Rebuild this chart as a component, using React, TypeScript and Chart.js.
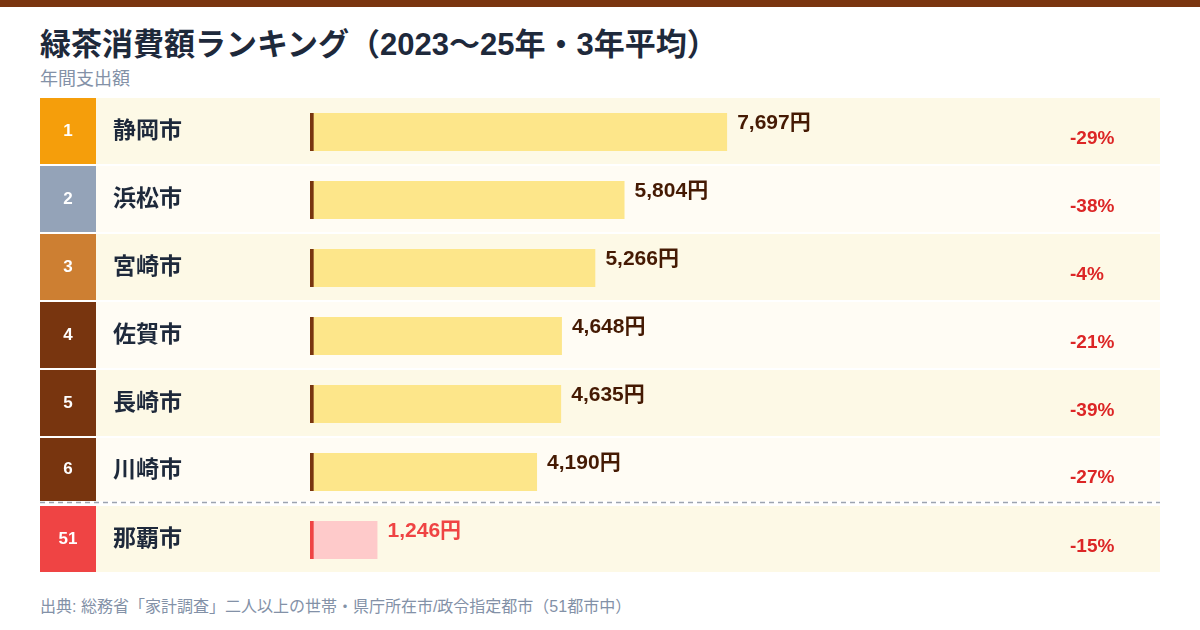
import { useEffect, useRef } from "react"
import { Chart, registerables } from "chart.js"

Chart.register(...registerables)

const cities = ["静岡市", "浜松市", "宮崎市", "佐賀市", "長崎市", "川崎市", "那覇市"]
const ranks = ["1", "2", "3", "4", "5", "6", "51"]
const spending = [7697, 5804, 5266, 4648, 4635, 4190, 1246]
const changes = ["-29%", "-38%", "-4%", "-21%", "-39%", "-27%", "-15%"]
const rankColors = ["#f59e0b", "#94a3b8", "#cd7f32", "#78350f", "#78350f", "#78350f", "#ef4444"]

const FONT = '"Helvetica Neue", Arial, "Liberation Sans", "Noto Sans CJK JP", sans-serif'
const BROWN = "#78350f"
const RED = "#ef4444"

const rowPlugin = {
  id: "rows",
  beforeDatasetsDraw(chart: any) {
    const { ctx, width } = chart
    const y = chart.scales.y
    const band = y.getPixelForValue(1) - y.getPixelForValue(0)
    ctx.save()
    cities.forEach((city, i) => {
      const c = y.getPixelForValue(i)
      const top = c - band / 2
      let h = band - 2
      if (i === 5) h = band - 5
      ctx.fillStyle = i % 2 === 0 ? "#fdf9e6" : "#fffcf4"
      ctx.fillRect(0, top, width, h)
      ctx.fillStyle = rankColors[i]
      ctx.fillRect(0, top, 56, h)
      ctx.fillStyle = "#ffffff"
      ctx.font = `bold 17px ${FONT}`
      ctx.textAlign = "center"
      ctx.textBaseline = "middle"
      ctx.fillText(ranks[i], 28, top + h / 2)
      ctx.fillStyle = "#1e293b"
      ctx.font = `bold 23px ${FONT}`
      ctx.textAlign = "left"
      ctx.fillText(city, 73, top + h / 2 + 1)
      ctx.fillStyle = "#dc2626"
      ctx.font = `bold 19px ${FONT}`
      ctx.fillText(changes[i], 1030, top + h / 2 + 8)
    })
    // separator before the last row
    const sepY = y.getPixelForValue(5) + band / 2 - 3.5
    ctx.strokeStyle = "#9ca3af"
    ctx.lineWidth = 1.5
    ctx.setLineDash([5, 4])
    ctx.beginPath()
    ctx.moveTo(0, sepY)
    ctx.lineTo(width, sepY)
    ctx.stroke()
    ctx.restore()
  },
  afterDatasetsDraw(chart: any) {
    const { ctx } = chart
    const meta = chart.getDatasetMeta(0)
    ctx.save()
    ctx.font = `bold 21px ${FONT}`
    ctx.textAlign = "left"
    ctx.textBaseline = "middle"
    meta.data.forEach((bar: any, i: number) => {
      ctx.fillStyle = i === 6 ? RED : "#451a03"
      ctx.fillText(`${spending[i].toLocaleString("en-US")}円`, bar.x + 10, bar.y - 9)
    })
    ctx.restore()
  },
}

export default function App() {
  const chartRef = useRef<HTMLCanvasElement>(null)
  const chartInstanceRef = useRef<Chart | null>(null)

  useEffect(() => {
    document.body.style.margin = "0"
    if (!chartRef.current) return
    if (chartInstanceRef.current) chartInstanceRef.current.destroy()

    chartInstanceRef.current = new Chart(chartRef.current, {
      type: "bar",
      data: {
        labels: cities,
        datasets: [
          {
            data: spending,
            backgroundColor: spending.map((_, i) => (i === 6 ? "#fecaca" : "#fde68a")),
            borderColor: spending.map((_, i) => (i === 6 ? RED : BROWN)),
            borderWidth: { left: 4, right: 0, top: 0, bottom: 0 },
            borderSkipped: false,
            barThickness: 38,
          },
        ],
      },
      options: {
        indexAxis: "y",
        responsive: false,
        animation: false,
        layout: { padding: { left: 270, right: 308, top: 0, bottom: 0 } },
        plugins: { legend: { display: false }, tooltip: { enabled: false } },
        scales: {
          x: { display: false, min: 0, max: 10000, grid: { display: false } },
          y: { display: false, grid: { display: false } },
        },
      },
      plugins: [rowPlugin],
    } as any)

    return () => {
      if (chartInstanceRef.current) {
        chartInstanceRef.current.destroy()
        chartInstanceRef.current = null
      }
    }
  }, [])

  return (
    <div style={{ position: "relative", width: 1200, height: 630, background: "#ffffff", fontFamily: FONT, overflow: "hidden" }}>
      <div style={{ position: "absolute", left: 0, top: 0, width: 1200, height: 7, background: "#7a3510" }} />
      <div style={{ position: "absolute", left: 40, top: 25, fontSize: 31, fontWeight: 700, color: "#1e293b", lineHeight: "40px", whiteSpace: "nowrap" }}>
        緑茶消費額ランキング（2023〜25年・3年平均）
      </div>
      <div style={{ position: "absolute", left: 40, top: 68, fontSize: 18, color: "#8391a7", lineHeight: "22px" }}>
        年間支出額
      </div>
      <div style={{ position: "absolute", left: 40, top: 98, width: 1120, height: 476 }}>
        <canvas ref={chartRef} width={1120} height={476} style={{ width: 1120, height: 476 }} />
      </div>
      <div style={{ position: "absolute", left: 40, top: 596, fontSize: 16, color: "#8391a7", lineHeight: "22px", whiteSpace: "nowrap" }}>
        出典: 総務省「家計調査」二人以上の世帯・県庁所在市/政令指定都市（51都市中）
      </div>
    </div>
  )
}
